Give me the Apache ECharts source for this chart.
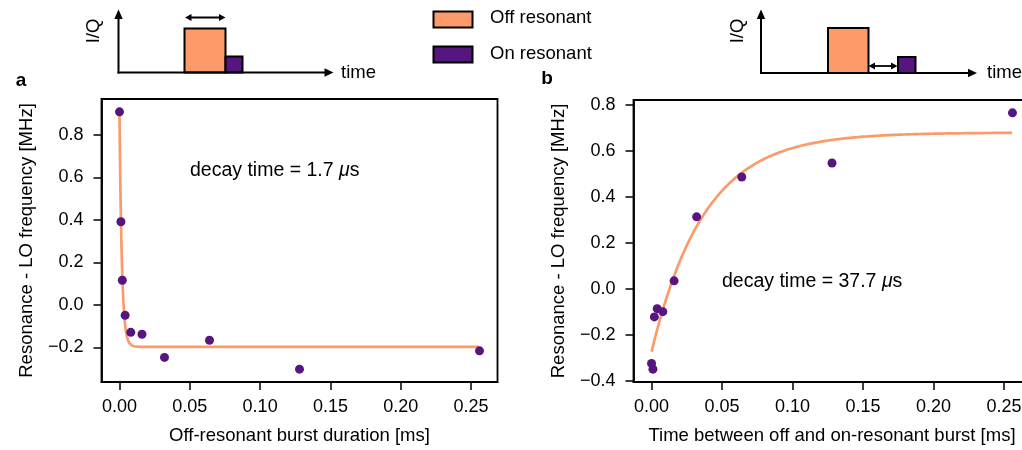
<!DOCTYPE html>
<html>
<head>
<meta charset="utf-8">
<script src="https://cdn.jsdelivr.net/npm/echarts@6/dist/echarts.min.js"></script>
<style>
  html, body { margin: 0; padding: 0; background: #fff; }
  #chart { width: 1022px; height: 450px; }
</style>
</head>
<body>
<div id="chart"></div>
<script>
// Measured resonance shift vs. off-resonant burst duration (panel a)
const burstDuration = [0, 0.001, 0.002, 0.004, 0.008, 0.016, 0.032, 0.064, 0.128, 0.256];
const shiftVsDuration = [0.908, 0.391, 0.116, -0.049, -0.129, -0.138, -0.247, -0.166, -0.302, -0.216];

// Measured resonance shift vs. delay between off- and on-resonant bursts (panel b)
const burstDelay = [0, 0.001, 0.002, 0.004, 0.008, 0.016, 0.032, 0.064, 0.128, 0.256];
const shiftVsDelay = [-0.323, -0.348, -0.121, -0.085, -0.098, 0.036, 0.314, 0.487, 0.548, 0.766];

// Exponential fit parameters: y = offset + amplitude * exp(-t / tau)
const fitA = { amplitude: 1.09, tauUs: 1.7, offset: -0.197 };
const fitB = { amplitude: -0.952, tauUs: 37.7, offset: 0.680 };

// Tick positions / labels
const xTicks = [0, 0.05, 0.10, 0.15, 0.20, 0.25];
const yTicksA = [-0.2, 0, 0.2, 0.4, 0.6, 0.8];
const yTicksB = [-0.4, -0.2, 0, 0.2, 0.4, 0.6, 0.8];

const ORANGE = '#FC9A6A';
const PURPLE = '#56157F';
const FONT = '"Liberation Sans", Arial, Helvetica, sans-serif';
const TICK_FONT = 18;
const LABEL_FONT = 18.5;

// Sample the fitted model over the measured time range (t in ms, tau in µs)
function fitCurve(p, tEnd) {
  const pts = [];
  const n = 1200;
  const tau = p.tauUs / 1000;
  for (let i = 0; i <= n; i++) {
    const t = tEnd * i / n;
    pts.push([t, p.offset + p.amplitude * Math.exp(-t / tau)]);
  }
  return pts;
}

const fmtMinus = s => s.replace('-', '\u2212');

function xAxisCfg(gridIndex, name) {
  return {
    type: 'value', gridIndex, min: -0.0128, max: 0.2688,
    name, nameLocation: 'middle', nameGap: 44,
    nameTextStyle: { fontSize: LABEL_FONT, color: '#000', fontFamily: FONT },
    axisLine: { onZero: false, lineStyle: { color: '#000', width: 1.8 } },
    axisTick: { show: true, length: 8, customValues: xTicks, lineStyle: { color: '#000', width: 1.5 } },
    axisLabel: { customValues: xTicks, formatter: v => v.toFixed(2), fontSize: TICK_FONT, color: '#000', margin: 16, fontFamily: FONT },
    splitLine: { show: false }
  };
}
function yAxisCfg(gridIndex, min, max, ticks) {
  return {
    type: 'value', gridIndex, min, max,
    name: 'Resonance - LO frequency [MHz]', nameLocation: 'middle', nameGap: 65, nameRotate: 90,
    nameTextStyle: { fontSize: LABEL_FONT, color: '#000', fontFamily: FONT },
    axisLine: { onZero: false, lineStyle: { color: '#000', width: 1.8 } },
    axisTick: { show: true, length: 8, customValues: ticks, lineStyle: { color: '#000', width: 1.5 } },
    axisLabel: { customValues: ticks, formatter: v => fmtMinus(v.toFixed(1)), fontSize: TICK_FONT, color: '#000', margin: 18, fontFamily: FONT },
    splitLine: { show: false }
  };
}

// Pulse-sequence sketch: axes with arrowheads, bursts as outlined boxes
function sketch(x0, yBase, xEnd, offRect, onRect, spanArrow, iqPos, timeX) {
  const els = [];
  const stroke = { stroke: '#000', lineWidth: 2 };
  els.push({ type: 'rect', shape: offRect, style: { fill: ORANGE, stroke: '#000', lineWidth: 2 } });
  els.push({ type: 'rect', shape: onRect, style: { fill: PURPLE, stroke: '#000', lineWidth: 2 } });
  els.push({ type: 'line', shape: { x1: x0, y1: yBase + 1, x2: x0, y2: 17 }, style: stroke });
  els.push({ type: 'polygon', shape: { points: [[x0, 9.5], [x0 - 4.2, 19], [x0 + 4.2, 19]] }, style: { fill: '#000' } });
  els.push({ type: 'line', shape: { x1: x0 - 1, y1: yBase, x2: xEnd - 7, y2: yBase }, style: stroke });
  els.push({ type: 'polygon', shape: { points: [[xEnd, yBase], [xEnd - 9, yBase - 4.2], [xEnd - 9, yBase + 4.2]] }, style: { fill: '#000' } });
  const a = spanArrow;
  els.push({ type: 'line', shape: { x1: a.x1 + 4, y1: a.y, x2: a.x2 - 4, y2: a.y }, style: { stroke: '#000', lineWidth: 1.8 } });
  els.push({ type: 'polygon', shape: { points: [[a.x1, a.y], [a.x1 + 6.5, a.y - 3.6], [a.x1 + 6.5, a.y + 3.6]] }, style: { fill: '#000' } });
  els.push({ type: 'polygon', shape: { points: [[a.x2, a.y], [a.x2 - 6.5, a.y - 3.6], [a.x2 - 6.5, a.y + 3.6]] }, style: { fill: '#000' } });
  els.push({ type: 'text', x: iqPos[0], y: iqPos[1], rotation: Math.PI / 2,
    style: { text: 'I/Q', fill: '#000', fontSize: LABEL_FONT, fontFamily: FONT, align: 'center', verticalAlign: 'middle', textAlign: 'center', textVerticalAlign: 'middle' } });
  els.push({ type: 'text', x: timeX, y: yBase,
    style: { text: 'time', fill: '#000', fontSize: LABEL_FONT, fontFamily: FONT, align: 'left', verticalAlign: 'middle', textAlign: 'left', textVerticalAlign: 'middle' } });
  return els;
}

function label(text, x, y, opts) {
  return Object.assign({ type: 'text', x, y,
    style: Object.assign({ text, fill: '#000', fontSize: LABEL_FONT, fontFamily: FONT, align: 'left', verticalAlign: 'middle', textAlign: 'left', textVerticalAlign: 'middle' }, opts || {}) });
}

const muRich = { mu: { fontStyle: 'italic', fontSize: 19.5, fontFamily: FONT, fill: '#000' } };

const graphics = [].concat(
  sketch(118.5, 72.5, 333.5,
    { x: 184.5, y: 28.5, width: 41, height: 44 },
    { x: 225.5, y: 56.5, width: 17, height: 16 },
    { x1: 185, x2: 225.5, y: 17.5 }, [94, 31], 341),
  sketch(761, 73, 977,
    { x: 828, y: 28, width: 40.5, height: 45 },
    { x: 898, y: 57, width: 17.5, height: 16 },
    { x1: 868.5, x2: 897.5, y: 66 }, [738, 31], 987),
  [
    { type: 'rect', shape: { x: 433.5, y: 11.5, width: 39, height: 16 }, style: { fill: ORANGE, stroke: '#000', lineWidth: 2 } },
    { type: 'rect', shape: { x: 433.5, y: 46.5, width: 39, height: 16 }, style: { fill: PURPLE, stroke: '#000', lineWidth: 2 } },
    label('Off resonant', 490, 18),
    label('On resonant', 490, 54),
    label('a', 21, 81, { fontWeight: 'bold', fontSize: 19, align: 'center', textAlign: 'center' }),
    label('b', 547, 79, { fontWeight: 'bold', fontSize: 19, align: 'center', textAlign: 'center' }),
    label('decay time = ' + fitA.tauUs.toFixed(1) + ' {mu|\u03bc}s', 190, 171, { fontSize: 19.5, rich: muRich }),
    label('decay time = ' + fitB.tauUs.toFixed(1) + ' {mu|\u03bc}s', 722, 282, { fontSize: 19.5, rich: muRich })
  ]
);

const chart = echarts.init(document.getElementById('chart'), null, { renderer: 'canvas' });
chart.setOption({
  animation: false,
  backgroundColor: '#fff',
  textStyle: { fontFamily: FONT },
  grid: [
    { left: 101.5, top: 99, width: 396, height: 283, show: true, borderColor: '#000', borderWidth: 1.8, outerBoundsMode: 'none' },
    { left: 633.5, top: 100, width: 397, height: 282, show: true, borderColor: '#000', borderWidth: 1.8, outerBoundsMode: 'none' }
  ],
  xAxis: [
    xAxisCfg(0, 'Off-resonant burst duration [ms]'),
    xAxisCfg(1, 'Time between off and on-resonant burst [ms]')
  ],
  yAxis: [
    yAxisCfg(0, -0.3625, 0.9685, yTicksA),
    yAxisCfg(1, -0.4037, 0.8217, yTicksB)
  ],
  series: [
    { type: 'line', xAxisIndex: 0, yAxisIndex: 0, data: fitCurve(fitA, burstDuration[burstDuration.length - 1]),
      showSymbol: false, lineStyle: { color: ORANGE, width: 2.7 }, z: 2 },
    { type: 'scatter', xAxisIndex: 0, yAxisIndex: 0, data: burstDuration.map((t, i) => [t, shiftVsDuration[i]]),
      symbolSize: 9, itemStyle: { color: PURPLE, opacity: 1 }, z: 3 },
    { type: 'line', xAxisIndex: 1, yAxisIndex: 1, data: fitCurve(fitB, burstDelay[burstDelay.length - 1]),
      showSymbol: false, lineStyle: { color: ORANGE, width: 2.7 }, z: 2 },
    { type: 'scatter', xAxisIndex: 1, yAxisIndex: 1, data: burstDelay.map((t, i) => [t, shiftVsDelay[i]]),
      symbolSize: 9, itemStyle: { color: PURPLE, opacity: 1 }, z: 3 }
  ],
  graphic: graphics
});
</script>
</body>
</html>
